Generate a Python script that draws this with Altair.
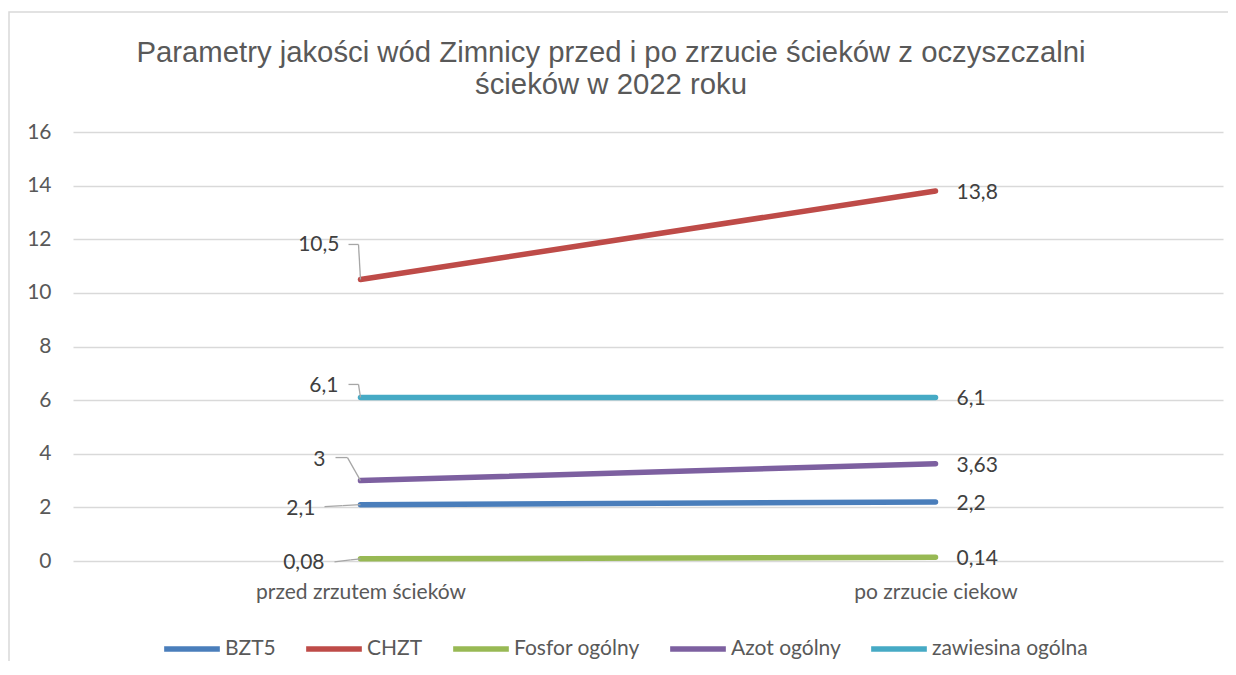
import altair as alt
import pandas as pd

title_lines = ["Parametry jakości wód Zimnicy przed i po zrzucie ścieków z oczyszczalni",
               "ścieków w 2022 roku"]
categories = ["przed zrzutem ścieków", "po zrzucie ciekow"]
series = ["BZT5", "CHZT", "Fosfor ogólny", "Azot ogólny", "zawiesina ogólna"]
before = [2.1, 10.5, 0.08, 3, 6.1]
after = [2.2, 13.8, 0.14, 3.63, 6.1]
colors = ["#4A7EBB", "#BE4B48", "#98B954", "#7D60A0", "#46AAC5"]

def pl(v):
    return f"{v:g}".replace(".", ",")

rows = []
for s, b, a in zip(series, before, after):
    rows.append({"series": s, "cat": categories[0], "value": b, "label": pl(b)})
    rows.append({"series": s, "cat": categories[1], "value": a, "label": pl(a)})
df = pd.DataFrame(rows)

# left-label placement (pixel offsets from the point) and leader polylines
left_dx = {"BZT5": -45, "CHZT": -21, "Fosfor ogólny": -36, "Azot ogólny": -35, "zawiesina ogólna": -22}
left_dy = {"BZT5": 4, "CHZT": -34, "Fosfor ogólny": 4, "Azot ogólny": -21, "zawiesina ogólna": -11}
leaders = {
    "BZT5": [(-36, 2), (-18, 1), (0, 0)],
    "CHZT": [(-12, -35), (-2, -35), (0, 0)],
    "Fosfor ogólny": [(-26, 3), (-10, 1), (0, 0)],
    "Azot ogólny": [(-25, -23), (-13, -23), (0, 0)],
    "zawiesina ogólna": [(-12, -13), (-2, -13), (0, 0)],
}

left = df[df["cat"] == categories[0]].copy()
left["dx"] = left["series"].map(left_dx)
left["dy"] = left["series"].map(left_dy)
right = df[df["cat"] == categories[1]].copy()

seg_rows = []
for s, b in zip(series, before):
    pts = leaders[s]
    for (x1, y1), (x2, y2) in zip(pts[:-1], pts[1:]):
        seg_rows.append({"series": s, "cat": categories[0], "value": b,
                         "ox1": x1, "oy1": y1, "ox2": x2, "oy2": y2})
segs = pd.DataFrame(seg_rows)

FONT = "Lato"
FS = 21
W, H = 1150, 429

x_enc = alt.X("cat:N", sort=categories, scale=alt.Scale(type="point", padding=0.5),
              axis=alt.Axis(title=None, domain=False, ticks=False, labelAngle=0, labelLimit=0,
                            labelFont=FONT, labelFontSize=FS, labelColor="#595959",
                            labelPadding=20))
y_enc = alt.Y("value:Q", scale=alt.Scale(domain=[0, 16]),
              axis=alt.Axis(title=None, values=list(range(0, 17, 2)), domain=False, ticks=False,
                            labelFont=FONT, labelFontSize=FS, labelColor="#595959",
                            labelPadding=22, gridColor="#D9D9D9", gridWidth=1.3))

lines = alt.Chart(df).mark_line(strokeWidth=5.5, strokeCap="round").encode(
    x=x_enc, y=y_enc,
    color=alt.Color("series:N", sort=series,
                    scale=alt.Scale(domain=series, range=colors),
                    legend=alt.Legend(title=None, orient="none", legendX=88, legendY=486,
                                      direction="horizontal", symbolType="stroke",
                                      symbolSize=3100, symbolStrokeWidth=5.5,
                                      labelFont=FONT, labelFontSize=FS, labelColor="#595959",
                                      labelOffset=2, columnPadding=19, symbolOffset=0)),
    detail="series:N",
)

lead = alt.Chart(segs).mark_rule(color="#A6A6A6", strokeWidth=1.3,
                                 xOffset=alt.ExprRef("datum.ox1"), yOffset=alt.ExprRef("datum.oy1"),
                                 x2Offset=alt.ExprRef("datum.ox2"), y2Offset=alt.ExprRef("datum.oy2")).encode(
    x=alt.X("cat:N", sort=categories), x2="cat:N",
    y="value:Q", y2="value:Q",
)

ltext = alt.Chart(left).mark_text(align="right", baseline="middle", font=FONT, fontSize=FS,
                                  color="#404040",
                                  dx=alt.ExprRef("datum.dx"), dy=alt.ExprRef("datum.dy")).encode(
    x=alt.X("cat:N", sort=categories), y="value:Q", text="label:N")

rtext = alt.Chart(right).mark_text(align="left", baseline="middle", font=FONT, fontSize=FS,
                                   color="#404040", dx=21, dy=2).encode(
    x=alt.X("cat:N", sort=categories), y="value:Q", text="label:N")

frame = alt.Chart(pd.DataFrame({"f": [0]})).mark_rect(fill=None, stroke="#D9D9D9", strokeWidth=1.5).encode(
    x=alt.value(-64), x2=alt.value(W + 200), y=alt.value(-120), y2=alt.value(H + 200))

tdf = pd.DataFrame({"line": title_lines, "i": list(range(len(title_lines)))})
title = alt.Chart(tdf).mark_text(font="Liberation Sans", fontSize=29.3, color="#595959",
                                 align="center", baseline="alphabetic",
                                 dy=alt.ExprRef("datum.i * 32")).encode(
    x=alt.value(538), y=alt.value(-70), text="line:N")

chart = alt.layer(frame, title, lines, lead, ltext, rtext).properties(
    width=W, height=H,
    padding={"left": 65, "top": 124, "right": 5, "bottom": 100},
    autosize=alt.AutoSizeParams(type="none"),
).configure_view(stroke=None)

chart.save("out.html", embed_options={"renderer": "svg", "actions": False})
